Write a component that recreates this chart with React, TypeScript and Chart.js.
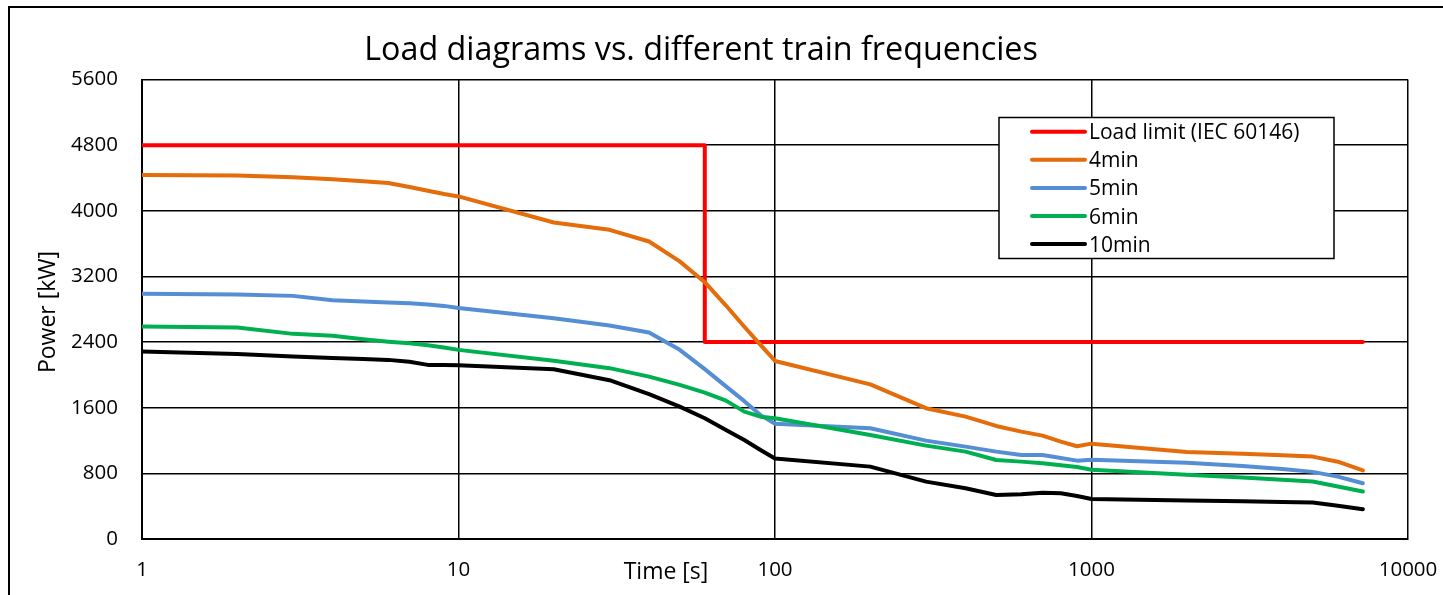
import React, { useEffect, useRef } from "react";
import { Chart, registerables } from "chart.js";

Chart.register(...registerables);

// ---------- data ----------
const timeS = [1, 2, 3, 4, 5, 6, 7, 8, 9, 10, 20, 30, 40, 50, 60, 70, 80, 90, 100, 200, 300, 400, 500, 600, 700, 800, 900, 1000, 2000, 3000, 4000, 5000, 6000, 7200];

const load4min = [4435, 4430, 4410, 4385, 4360, 4338, 4290, 4245, 4205, 4175, 3857, 3768, 3626, 3383, 3130, 2845, 2586, 2365, 2170, 1885, 1594, 1491, 1378, 1309, 1260, 1187, 1130, 1162, 1060, 1040, 1020, 1004, 942, 835];
const load5min = [2990, 2980, 2963, 2910, 2893, 2883, 2874, 2858, 2841, 2815, 2691, 2601, 2516, 2305, 2070, 1860, 1680, 1510, 1405, 1350, 1199, 1126, 1065, 1024, 1024, 988, 955, 965, 930, 890, 852, 818, 760, 680];
const load6min = [2590, 2577, 2500, 2476, 2435, 2405, 2385, 2360, 2335, 2305, 2171, 2082, 1979, 1878, 1784, 1686, 1552, 1491, 1472, 1268, 1138, 1065, 963, 943, 923, 898, 878, 845, 782, 750, 722, 700, 640, 578];
const load10min = [2284, 2256, 2223, 2205, 2195, 2183, 2160, 2122, 2120, 2118, 2069, 1935, 1766, 1614, 1472, 1329, 1207, 1085, 980, 882, 699, 618, 537, 545, 565, 557, 525, 488, 470, 460, 452, 445, 405, 362];

const limitTime = [1, 60, 60, 7200];
const limitPower = [4800, 4800, 2400, 2400];

const seriesLabels = ["Load limit (IEC 60146)", "4min", "5min", "6min", "10min"];
const seriesColors = ["#FF0000", "#E46C0A", "#558ED5", "#00B050", "#000000"];

const xTickValues = [1, 10, 100, 1000, 10000];
const yMin = 0;
const yMax = 5600;
const yStep = 800;

const titleText = "Load diagrams vs. different train frequencies";
const xTitleText = "Time [s]";
const yTitleText = "Power [kW]";

const FAMILY = "'Open Sans', sans-serif";

const decorPlugin = {
  id: "decor",
  afterDraw(chart: any) {
    const ctx = chart.ctx;
    ctx.save();
    ctx.fillStyle = "#000";
    ctx.textAlign = "center";
    ctx.textBaseline = "alphabetic";
    ctx.font = `32.3px ${FAMILY}`;
    ctx.fillText(titleText, 701, 60);

    ctx.font = `23px ${FAMILY}`;
    ctx.fillText(xTitleText, 666, 579);

    ctx.save();
    ctx.translate(55, 312);
    ctx.rotate(-Math.PI / 2);
    ctx.fillText(yTitleText, 0, 0);
    ctx.restore();

    // legend
    const lx = 999, ly = 117.5, lw = 335, lh = 141;
    ctx.fillStyle = "#fff";
    ctx.fillRect(lx, ly, lw, lh);
    ctx.lineWidth = 1.5;
    ctx.strokeStyle = "#000";
    ctx.strokeRect(lx, ly, lw, lh);
    ctx.font = `21px ${FAMILY}`;
    chart.data.datasets.forEach((ds: any, i: number) => {
      const cy = 131.7 + i * 28.1;
      ctx.strokeStyle = ds.borderColor;
      ctx.lineWidth = 4;
      ctx.lineCap = "round";
      ctx.beginPath();
      ctx.moveTo(1032, cy);
      ctx.lineTo(1085, cy);
      ctx.stroke();
      ctx.fillStyle = "#000";
      ctx.textAlign = "left";
      ctx.textBaseline = "alphabetic";
      ctx.fillText(ds.label, 1089, cy + 7.5);
    });
    ctx.restore();
  },
};

export default function App() {
  const ref = useRef<HTMLCanvasElement | null>(null);

  useEffect(() => {
    if (!ref.current) return;
    const series = [
      limitTime.map((t, i) => ({ x: t, y: limitPower[i] })),
      timeS.map((t, i) => ({ x: t, y: load4min[i] })),
      timeS.map((t, i) => ({ x: t, y: load5min[i] })),
      timeS.map((t, i) => ({ x: t, y: load6min[i] })),
      timeS.map((t, i) => ({ x: t, y: load10min[i] })),
    ];
    const n = series.length;
    const chart = new Chart(ref.current, {
      type: "scatter",
      data: {
        datasets: series.map((d, i) => ({
          label: seriesLabels[i],
          data: d,
          showLine: true,
          borderColor: seriesColors[i],
          backgroundColor: seriesColors[i],
          borderWidth: 4,
          pointRadius: 0,
          tension: 0,
          borderCapStyle: "round",
          borderJoinStyle: "round",
          order: n - 1 - i,
        })),
      },
      options: {
        responsive: false,
        animation: false,
        devicePixelRatio: 1,
        layout: { padding: { left: 0, right: 35, top: 79.5, bottom: 0 } },
        plugins: {
          legend: { display: false },
          title: { display: false },
          tooltip: { enabled: false },
        },
        scales: {
          x: {
            type: "logarithmic",
            min: xTickValues[0],
            max: xTickValues[xTickValues.length - 1],
            afterBuildTicks: (s: any) => {
              s.ticks = xTickValues.map((v) => ({ value: v }));
            },
            afterFit: (s: any) => {
              s.height = 56;
              s.paddingLeft = 0;
              s.paddingRight = 0;
            },
            ticks: {
              callback: (v: any) => String(v),
              font: { family: FAMILY, size: 20.5 },
              color: "#000",
              padding: 19,
              maxRotation: 0,
              autoSkip: false,
            },
            grid: { color: "#000", lineWidth: 1.5, drawTicks: false },
            border: { color: "#000", width: 2 },
          },
          y: {
            type: "linear",
            min: yMin,
            max: yMax,
            afterFit: (s: any) => {
              s.width = 142;
              s.paddingTop = 0;
              s.paddingBottom = 0;
            },
            ticks: {
              stepSize: yStep,
              callback: (v: any) => String(v),
              font: { family: FAMILY, size: 20.5 },
              color: "#000",
              padding: 24,
            },
            grid: { color: "#000", lineWidth: 1.5, drawTicks: false },
            border: { color: "#000", width: 2 },
          },
        },
      },
      plugins: [decorPlugin],
    } as any);
    return () => chart.destroy();
  }, []);

  return (
    <div style={{ position: "fixed", left: 0, top: 0, width: 1443, height: 595, background: "#fff", overflow: "hidden" }}>
      <canvas ref={ref} width={1443} height={595} style={{ display: "block", position: "absolute", left: 0, top: 0 }} />
      <div
        style={{
          position: "absolute",
          left: 8,
          top: 6,
          width: 1500,
          height: 620,
          borderTop: "2px solid #000",
          borderLeft: "2px solid #000",
          boxSizing: "border-box",
          pointerEvents: "none",
        }}
      />
    </div>
  );
}
